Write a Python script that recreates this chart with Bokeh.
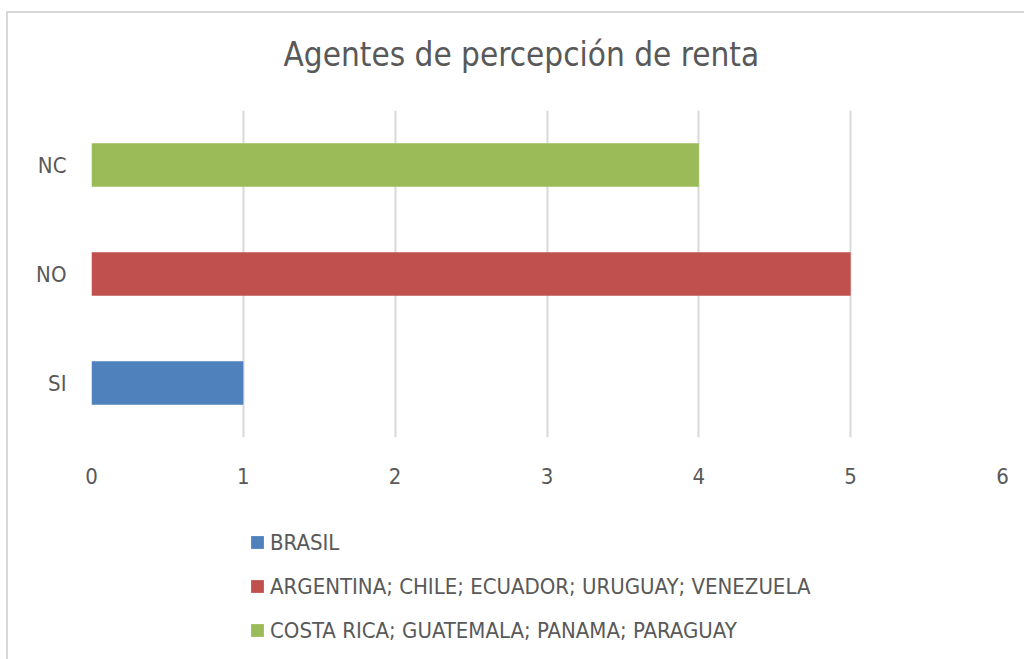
from bokeh.plotting import figure
from bokeh.models import ColumnDataSource, Legend, LegendItem, Title
from bokeh.layouts import column
from bokeh.embed import file_html
from bokeh.resources import INLINE

categories = ["SI", "NO", "NC"]
series = ["BRASIL",
          "ARGENTINA; CHILE; ECUADOR; URUGUAY; VENEZUELA",
          "COSTA RICA; GUATEMALA; PANAMA; PARAGUAY"]
values = [1, 5, 4]
colors = ["#4F81BD", "#C0504D", "#9BBB59"]
x_ticks = [0, 1, 2, 3, 4, 5, 6]
title_text = "Agentes de percepción de renta"

FONT = "DejaVu Sans Condensed"
TXT = "#595959"

p = figure(width=1016, height=500, y_range=categories, x_range=(0, 6),
           output_backend="svg", toolbar_location=None,
           min_border_left=83, min_border_right=22,
           min_border_top=97, min_border_bottom=76)

# spacer between frame and title (nearest to the frame)
p.add_layout(Title(text=" ", text_font_size="1px", standoff=34), "above")
p.add_layout(Title(text=title_text, text_font=FONT, text_font_size="33px",
                   text_font_style="normal", text_color=TXT,
                   align="left", offset=192, standoff=0), "above")

for cat, name, v, c in zip(categories, series, values, colors):
    src = ColumnDataSource(dict(y=[cat], right=[v]))
    p.hbar(y="y", right="right", left=0, height=0.4, source=src,
           fill_color=c, line_color=None)

p.outline_line_color = None
p.ygrid.grid_line_color = None
p.xgrid.grid_line_color = "#d9d9d9"
p.xgrid.grid_line_width = 2
p.xaxis.ticker = x_ticks

for ax in (p.xaxis[0], p.yaxis[0]):
    ax.axis_line_color = None
    ax.major_tick_line_color = None
    ax.minor_tick_line_color = None
    ax.major_label_text_font = FONT
    ax.major_label_text_font_size = "22px"
    ax.major_label_text_color = TXT
p.xaxis.major_label_standoff = 24
p.yaxis.major_label_standoff = 19

# legend figure (below the chart); its swatch renderers lie outside its view
lg = figure(width=1016, height=146, x_range=(0, 1), y_range=(0, 1),
            x_axis_type=None, y_axis_type=None, output_backend="svg",
            toolbar_location=None, min_border=0)
lg.outline_line_color = None
items = []
for name, v, c in zip(series, values, colors):
    r = lg.hbar(y=[-5], right=[v], left=0, height=0.4,
                fill_color=c, line_color=None)
    items.append(LegendItem(label=name, renderers=[r]))

legend = Legend(items=items, location=(158, 16), orientation="vertical",
                label_text_font=FONT, label_text_font_size="22px",
                label_text_color=TXT, glyph_width=16, glyph_height=16,
                label_height=26, spacing=18, label_standoff=5,
                padding=0, margin=0, border_line_color=None,
                background_fill_alpha=0)
lg.add_layout(legend, "center")

layout = column(p, lg, spacing=0)
layout.styles = {"border-left": "2px solid #d9d9d9", "border-top": "2px solid #d9d9d9",
                 "margin-left": "6px", "margin-top": "11px"}

open("out.html", "w").write(file_html(layout, INLINE))
